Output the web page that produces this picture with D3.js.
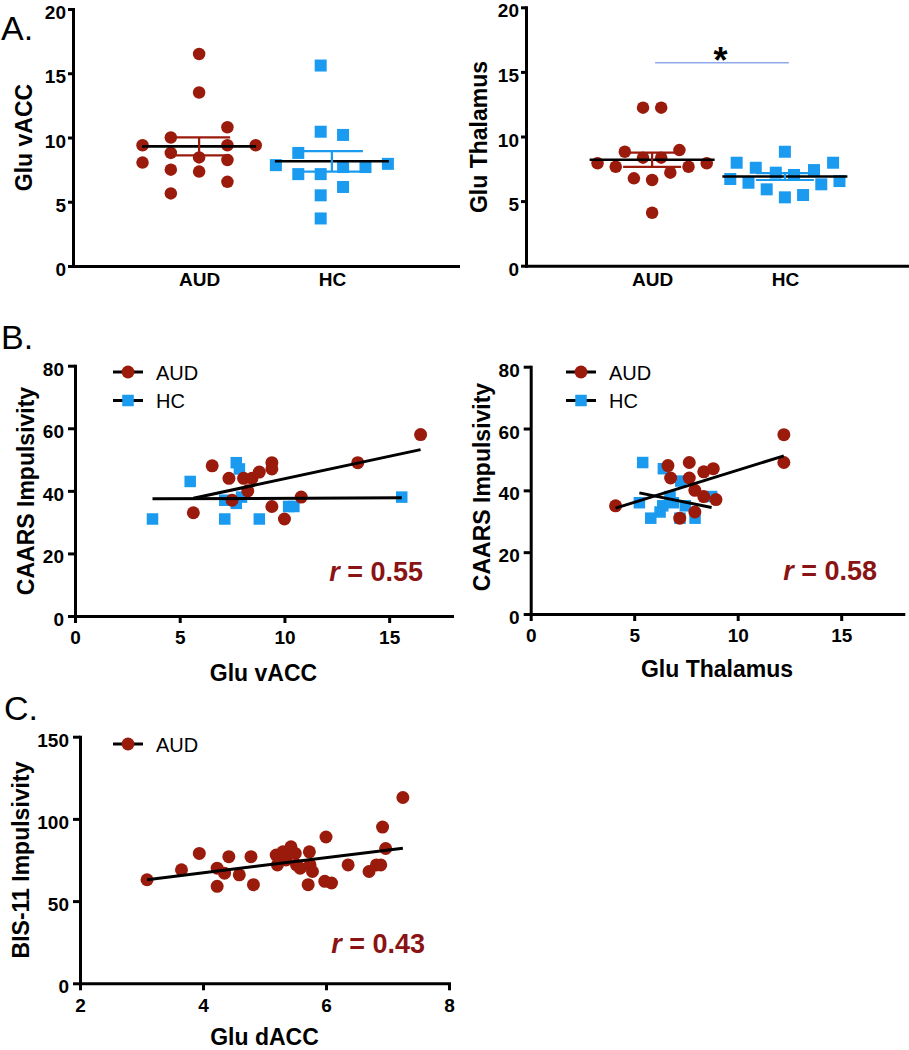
<!DOCTYPE html>
<html><head><meta charset="utf-8">
<script src="https://cdn.jsdelivr.net/npm/d3@7"></script>
<style>body{margin:0;background:#fff} svg{display:block}</style>
</head><body><svg id="c" width="909" height="1050"></svg>
<script>
// ---------- DATA ----------
const groups = ["AUD", "HC"];
// Panel A: Glu vACC / Glu Thalamus by group (slot = beeswarm column index)
const audVacc     = [16.5, 13.5, 9.4, 10.0, 10.8, 9.4, 9.4, 8.05, 8.8, 8.45, 8.25, 7.5, 7.35, 6.55, 5.65];
const audVaccSlot = [0, 0, -2, -1, 1, 1, 2, -2, -1, 0, 1, -1, 0, 1, -1];
const hcVacc      = [15.6, 10.45, 10.2, 8.8, 7.85, 7.15, 7.15, 7.7, 7.7, 7.95, 6.15, 5.5, 3.7];
const hcVaccSlot  = [-0.5, -0.5, 0.5, -1.5, -2.5, -1.5, -0.5, 0.5, 1.5, 2.5, 0.5, -0.5, -0.5];
const audThal     = [12.23, 12.23, 8.82, 8.95, 8.36, 8.36, 7.93, 7.66, 7.66, 7.93, 7.2, 6.76, 6.63, 4.1];
const audThalSlot = [-1, 1, -3, 3, -1, 1, -6, -4, 4, 6, 2, -2, 0, 0];
const hcThal      = [8.82, 7.97, 7.97, 7.58, 7.4, 7.2, 7.02, 6.71, 6.55, 6.42, 6.3, 5.91, 5.47, 5.29];
const hcThalSlot  = [0, -5.3, 5.3, -3.2, 3.2, -1, 1, -6, 6, -4, 4, -2, 2, 0];
const sigLevel = 15.7;
const yTicksA = [0, 5, 10, 15, 20];

// Panel B: CAARS Impulsivity vs Glu
const bVaccAudX = [16.5, 13.5, 6.55, 7.35, 7.5, 5.65, 8.05, 8.45, 8.8, 8.25, 9.4, 9.4, 9.4, 10.0, 10.8];
const bVaccAudY = [58, 49, 48, 44, 37, 33, 44, 44, 46, 40, 49, 47, 35, 31, 38];
const bVaccHcX  = [3.7, 5.5, 7.7, 7.85, 7.15, 7.7, 7.95, 7.15, 8.8, 10.2, 10.45, 15.6];
const bVaccHcY  = [31, 43, 49, 47, 37, 36, 38, 31, 31, 35, 35, 38];
const bThalAudX = [12.23, 12.23, 4.1, 6.63, 6.76, 7.66, 7.66, 7.93, 7.93, 8.36, 8.36, 8.82, 8.95, 7.2];
const bThalAudY = [58, 49, 35, 48, 44, 49, 44, 40, 33, 46, 38, 47, 37, 31];
const bThalHcX  = [5.41, 6.41, 5.25, 5.8, 6.25, 6.38, 6.73, 6.89, 7.25, 7.47, 7.21, 7.94, 8.74];
const bThalHcY  = [49, 47, 36, 31, 33, 35, 38, 36, 43, 35, 31, 31, 38];
const xTicksB = [0, 5, 10, 15];
const yTicksB = [0, 20, 40, 60, 80];

// Panel C: BIS-11 vs Glu dACC (AUD)
const cX = [3.09, 3.65, 3.94, 4.23, 4.23, 4.35, 4.42, 4.59, 4.78, 4.82, 5.19, 5.21, 5.30, 5.35, 5.43, 5.50,
            5.52, 5.58, 5.73, 5.74, 5.78, 5.71, 6.00, 5.98, 6.09, 6.36, 6.70, 6.82, 6.89, 6.92, 6.97, 7.25];
const cY = [63, 69, 79, 70, 59, 67, 77, 66, 77, 60, 78, 72, 80, 75, 83, 79,
            72, 70, 80, 72, 68, 60, 89, 62, 61, 72, 68, 72, 72, 95, 82, 113];
const xTicksC = [2, 4, 6, 8];
const yTicksC = [0, 50, 100, 150];

const rLabels = ["0.55", "0.58", "0.43"];

// ---------- STYLE ----------
const FONT = '"Liberation Sans", Arial, Helvetica, sans-serif';
const AUD_C = "#9a1a0c", HC_C = "#1a9bf0", R_C = "#8a1414", SIG_C = "#8fa9ea";
const svg = d3.select("#c").style("font-family", FONT);

function styleAxis(sel, fs) {
  sel.attr("font-family", null).attr("font-size", null);
  sel.select(".domain").attr("stroke", "#000").attr("stroke-width", 3).attr("stroke-linecap", "square");
  sel.selectAll(".tick line").attr("stroke", "#000").attr("stroke-width", 3);
  sel.selectAll(".tick text").attr("fill", "#000")
    .style("font-size", fs + "px").style("font-weight", "bold").style("font-family", FONT);
}
function marker(g, shape, cx, cy, size, color) {
  if (shape === "circle") g.append("circle").attr("cx", cx).attr("cy", cy).attr("r", size / 2).attr("fill", color);
  else g.append("rect").attr("x", cx - size / 2).attr("y", cy - size / 2).attr("width", size).attr("height", size).attr("fill", color);
}
function yTitle(text, x, y) {
  svg.append("text").attr("transform", `translate(${x},${y}) rotate(-90)`).attr("text-anchor", "middle")
    .style("font-size", "23px").style("font-weight", "bold").text(text);
}
function xTitle(text, x, y) {
  svg.append("text").attr("x", x).attr("y", y).attr("text-anchor", "middle")
    .style("font-size", "23px").style("font-weight", "bold").text(text);
}
function panelLabel(text, x, y) {
  svg.append("text").attr("x", x).attr("y", y).style("font-size", "34px").text(text);
}

// ---------- PANEL A ----------
function dotPanel(p) {
  const g = svg.append("g");
  const x = d3.scalePoint().domain(groups).range([p.x0, p.x1]).padding(0.95);
  const y = d3.scaleLinear().domain([0, 20]).range([p.yb, p.yt]);
  const xa = g.append("g").attr("transform", `translate(0,${p.yb})`)
    .call(d3.axisBottom(x).tickSize(0).tickPadding(7).tickSizeOuter(0));
  styleAxis(xa, 19);
  const ya = g.append("g").attr("transform", `translate(${p.x0},0)`)
    .call(d3.axisLeft(y).tickValues(yTicksA).tickSize(5).tickPadding(2).tickSizeOuter(0));
  styleAxis(ya, 19);
  ya.selectAll(".tick text").attr("dy", "0.5em");
  p.series.forEach(s => {
    const cx = x(s.group);
    s.values.forEach((v, i) => marker(g, s.shape, cx + s.slots[i] * s.spacing, y(v), s.size, s.color));
  });
  p.series.forEach(s => {
    const cx = x(s.group);
    const m = d3.mean(s.values), se = d3.deviation(s.values) / Math.sqrt(s.values.length);
    g.append("line").attr("x1", cx - p.meanW / 2).attr("x2", cx + p.meanW / 2)
      .attr("y1", y(m)).attr("y2", y(m)).attr("stroke", "#000").attr("stroke-width", 2.6);
    const eg = g.append("g").attr("stroke", s.color).attr("stroke-width", 2.2);
    eg.append("line").attr("x1", cx).attr("x2", cx).attr("y1", y(m - se)).attr("y2", y(m + se));
    [m - se, m + se].forEach(v => eg.append("line").attr("x1", cx - p.capW / 2).attr("x2", cx + p.capW / 2)
      .attr("y1", y(v)).attr("y2", y(v)));
  });
  return { x, y, g };
}

panelLabel("A.", 1, 40);
dotPanel({
  x0: 73, x1: 458, yb: 266, yt: 9, meanW: 114, capW: 62,
  series: [
    { group: "AUD", values: audVacc, slots: audVaccSlot, spacing: 28.3, shape: "circle", size: 12.5, color: AUD_C },
    { group: "HC", values: hcVacc, slots: hcVaccSlot, spacing: 22.4, shape: "square", size: 12, color: HC_C }
  ]
});
yTitle("Glu vACC", 32, 137.5);

const aR = dotPanel({
  x0: 526, x1: 911, yb: 265.7, yt: 7.3, meanW: 125, capW: 58,
  series: [
    { group: "AUD", values: audThal, slots: audThalSlot, spacing: 9.1, shape: "circle", size: 12.5, color: AUD_C },
    { group: "HC", values: hcThal, slots: hcThalSlot, spacing: 9.1, shape: "square", size: 12, color: HC_C }
  ]
});
yTitle("Glu Thalamus", 487, 137);
aR.g.append("line").attr("x1", aR.x("AUD") + 3).attr("x2", aR.x("HC") + 4)
  .attr("y1", aR.y(sigLevel)).attr("y2", aR.y(sigLevel)).attr("stroke", SIG_C).attr("stroke-width", 1.5);
aR.g.append("text").attr("x", (aR.x("AUD") + aR.x("HC")) / 2 + 2).attr("y", aR.y(sigLevel) + 10)
  .attr("text-anchor", "middle").style("font-size", "36px").style("font-weight", "bold").text("*");

// ---------- CORRELATION PANELS ----------
function fit(xs, ys) {
  const mx = d3.mean(xs), my = d3.mean(ys);
  let sxy = 0, sxx = 0;
  xs.forEach((v, i) => { sxy += (v - mx) * (ys[i] - my); sxx += (v - mx) ** 2; });
  const b = sxy / sxx, a = my - b * mx;
  const [lo, hi] = d3.extent(xs);
  return [[lo, a + b * lo], [hi, a + b * hi]];
}
function corrPanel(p) {
  const g = svg.append("g");
  const x = d3.scaleLinear().domain(p.xd).range([p.x0, p.x1]);
  const y = d3.scaleLinear().domain(p.yd).range([p.yb, p.yt]);
  const xa = g.append("g").attr("transform", `translate(0,${p.yb})`)
    .call(d3.axisBottom(x).tickValues(p.xt).tickFormat(d3.format("d")).tickSize(7).tickPadding(8).tickSizeOuter(0));
  styleAxis(xa, 19);
  const ya = g.append("g").attr("transform", `translate(${p.x0},0)`)
    .call(d3.axisLeft(y).tickValues(p.yt2).tickFormat(d3.format("d")).tickSize(7).tickPadding(4).tickSizeOuter(0));
  styleAxis(ya, 19);
  ya.selectAll(".tick text").attr("dy", "0.5em");
  // points (HC first so AUD sits on top)
  p.series.slice().reverse().forEach(s => {
    s.xs.forEach((v, i) => marker(g, s.shape, x(v), y(s.ys[i]), s.size, s.color));
  });
  p.series.forEach(s => {
    const f = fit(s.xs, s.ys);
    g.append("line").attr("x1", x(f[0][0])).attr("y1", y(f[0][1])).attr("x2", x(f[1][0])).attr("y2", y(f[1][1]))
      .attr("stroke", "#000").attr("stroke-width", 3);
  });
  // legend
  p.series.forEach((s, i) => {
    const ly = p.legY + i * 28.5;
    g.append("line").attr("x1", p.legX).attr("x2", p.legX + 30).attr("y1", ly).attr("y2", ly)
      .attr("stroke", "#000").attr("stroke-width", 3);
    marker(g, s.shape, p.legX + 15, ly, s.size, s.color);
    g.append("text").attr("x", p.legX + 43).attr("y", ly + 7.5).style("font-size", "20px").text(s.name);
  });
  // r label
  const t = g.append("text").attr("x", p.rX).attr("y", p.rY).attr("text-anchor", "end")
    .style("font-size", "27px").style("font-weight", "bold").attr("fill", R_C);
  t.append("tspan").style("font-style", "italic").text("r");
  t.append("tspan").text(" = " + p.r);
}

panelLabel("B.", 1, 349);
corrPanel({
  x0: 75, x1: 452, yb: 616, yt: 365.7, xd: [0, 18], yd: [0, 80], xt: xTicksB, yt2: yTicksB,
  legX: 113, legY: 372, rX: 423, rY: 581, r: rLabels[0],
  series: [
    { name: "AUD", xs: bVaccAudX, ys: bVaccAudY, shape: "circle", size: 13, color: AUD_C },
    { name: "HC", xs: bVaccHcX, ys: bVaccHcY, shape: "square", size: 11.5, color: HC_C }
  ]
});
yTitle("CAARS Impulsivity", 33.5, 491);
xTitle("Glu vACC", 263.5, 681);

corrPanel({
  x0: 530.7, x1: 903.3, yb: 614, yt: 366.7, xd: [0, 18], yd: [0, 80], xt: xTicksB, yt2: yTicksB,
  legX: 566, legY: 372, rX: 877, rY: 580, r: rLabels[1],
  series: [
    { name: "AUD", xs: bThalAudX, ys: bThalAudY, shape: "circle", size: 13, color: AUD_C },
    { name: "HC", xs: bThalHcX, ys: bThalHcY, shape: "square", size: 11.5, color: HC_C }
  ]
});
yTitle("CAARS Impulsivity", 489.5, 487);
xTitle("Glu Thalamus", 717, 677);

panelLabel("C.", 4, 720);
corrPanel({
  x0: 80, x1: 449, yb: 983.3, yt: 736.7, xd: [2, 8], yd: [0, 150], xt: xTicksC, yt2: yTicksC,
  legX: 113, legY: 744, rX: 425, rY: 953, r: rLabels[2],
  series: [
    { name: "AUD", xs: cX, ys: cY, shape: "circle", size: 13, color: AUD_C }
  ]
});
yTitle("BIS-11 Impulsivity", 28.5, 860);
xTitle("Glu dACC", 264.5, 1045);
</script>
</body></html>
